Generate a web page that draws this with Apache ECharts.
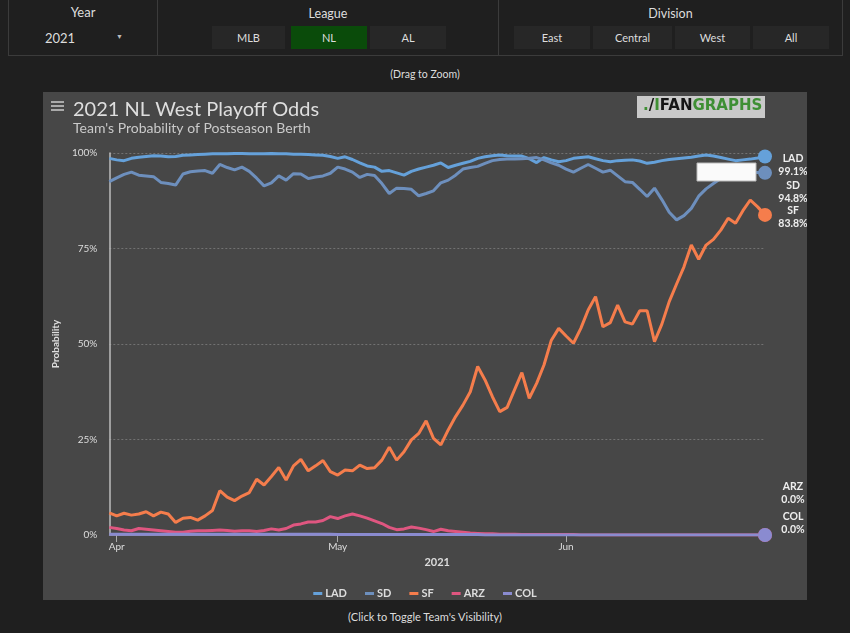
<!DOCTYPE html>
<html><head><meta charset="utf-8">
<script src="https://cdn.jsdelivr.net/npm/echarts/dist/echarts.min.js"></script>
<style>
html,body{margin:0;padding:0;background:#1f1f1f;width:850px;height:633px;overflow:hidden;font-family:Lato,sans-serif;color:#ddd;}
.box{position:absolute;top:-1px;height:57px;border:1px solid #3b3b3b;box-sizing:border-box;}
.hdr{position:absolute;left:0;width:100%;text-align:center;font-size:13px;color:#ddd;}
.btn{position:absolute;top:26px;height:23px;line-height:23px;text-align:center;font-size:11px;background:#272727;color:#ddd;}
.note{position:absolute;left:0;width:850px;text-align:center;font-size:10.5px;color:#ddd;}
#chart{position:absolute;left:43px;top:92px;width:764px;height:508px;}
</style></head>
<body>
<div class="box" style="left:8px;width:150px;">
  <div class="hdr" style="top:4px;">Year</div>
  <div style="position:absolute;left:36px;top:30px;font-size:13px;">2021</div>
  <div style="position:absolute;left:107px;top:32px;font-size:7px;color:#bbb;">&#9660;</div>
</div>
<div class="box" style="left:157px;width:342px;">
  <div class="hdr" style="top:6px;font-size:12.5px;">League</div>
</div>
<div class="box" style="left:498px;width:345px;">
  <div class="hdr" style="top:6px;font-size:12.5px;">Division</div>
</div>
<div class="btn" style="left:212px;width:73px;">MLB</div>
<div class="btn" style="left:291px;width:76px;background:#0a4b0a;">NL</div>
<div class="btn" style="left:370px;width:76px;">AL</div>
<div class="btn" style="left:514px;width:76px;">East</div>
<div class="btn" style="left:593px;width:79px;">Central</div>
<div class="btn" style="left:675px;width:75px;">West</div>
<div class="btn" style="left:753px;width:76px;">All</div>
<div class="note" style="top:68px;">(Drag to Zoom)</div>
<div id="chart"></div>
<div class="note" style="top:610px;font-size:11px;">(Click to Toggle Team's Visibility)</div>
<script>
// ---- data ----
const startDate = new Date(Date.UTC(2021, 2, 31));
const dates = [];
for (let i = 0; i < 90; i++) {
  const d = new Date(startDate.getTime() + i * 86400000);
  dates.push(d.toISOString().slice(0, 10));
}
const monthNames = {'04': 'Apr', '05': 'May', '06': 'Jun'};
const teams = ['LAD', 'SD', 'SF', 'ARZ', 'COL'];
const LAD = [98.6,98.2,98.0,98.6,98.9,99.1,99.3,99.2,99.0,99.1,99.4,99.5,99.6,99.7,99.8,
  99.8,99.8,99.9,99.9,99.8,99.8,99.8,99.9,99.8,99.8,99.7,99.7,99.6,99.5,
  99.4,99.1,98.6,99.0,98.3,97.4,96.6,96.3,95.2,95.4,94.8,94.2,95.2,95.8,96.3,96.8,
  97.4,96.2,96.8,97.3,97.8,98.6,99.0,99.3,99.5,99.3,99.2,99.2,98.5,97.5,98.8,
  98.2,97.7,98.0,98.6,98.8,99.0,98.5,98.0,97.7,98.0,98.1,98.2,97.9,97.3,97.6,
  98.0,98.3,98.5,98.7,98.9,99.2,99.5,99.2,98.8,98.4,98.0,98.2,98.4,98.7,99.1];
const SD = [92.5,93.5,94.4,95.0,94.2,94.0,93.8,92.3,92.0,91.6,94.5,95.1,95.3,95.4,94.7,
  97.0,96.2,95.6,96.3,95.2,93.4,91.4,92.2,94.0,92.9,94.6,94.5,93.3,93.7,94.0,
  94.7,96.3,95.8,95.0,93.6,94.4,94.1,92.0,89.4,90.8,90.7,90.5,88.8,89.4,90.1,
  92.2,92.9,94.2,95.8,96.2,96.5,97.3,98.0,98.3,98.4,98.4,98.5,98.6,98.8,98.2,
  97.4,96.8,95.8,95.0,96.0,97.0,96.0,95.0,95.5,94.0,92.5,92.3,90.5,88.6,90.8,
  87.8,84.5,82.5,83.6,85.5,88.7,90.6,92.0,93.3,94.0,94.5,94.8,95.0,94.9,94.8];
const SF = [5.8,5.0,5.7,5.2,5.5,6.1,5.0,6.0,5.5,3.3,4.4,4.6,3.9,5.0,6.4,
  11.6,9.9,9.0,10.2,11.1,14.6,13.1,15.3,17.7,14.4,18.1,19.8,16.8,18.1,19.5,
  16.6,15.7,17.0,16.8,18.3,17.4,17.6,19.6,23.0,19.6,21.8,24.9,26.6,29.9,25.3,
  23.6,27.5,31.0,34.0,37.5,44.1,40.6,36.2,32.3,33.4,38.0,42.5,35.8,39.7,44.5,
  51.0,54.1,52.1,50.2,54.1,58.9,62.4,54.5,55.6,60.2,55.8,55.2,58.7,58.7,50.6,
  55.2,61.1,65.7,70.2,75.9,72.2,75.9,77.4,79.8,82.9,81.6,84.9,87.7,85.9,83.8];
const ARZ = [2.0,1.7,1.3,1.1,1.7,1.5,1.3,1.1,0.9,0.7,0.7,1.0,1.1,1.1,1.2,
  1.3,1.2,1.0,1.1,1.1,0.9,1.2,1.6,1.3,1.7,2.6,2.9,3.4,3.4,3.8,
  4.8,4.3,5.0,5.5,5.0,4.4,3.7,3.0,2.0,1.4,1.6,2.1,1.8,1.4,0.9,
  1.5,1.1,0.9,0.7,0.5,0.4,0.3,0.3,0.2,0.2,0.2,0.1,0.1,0.1,0.1,
  0.1,0.1,0.1,0.1,0.0,0.0,0.0,0.0,0.0,0.0,0.0,0.0,0.0,0.0,0.0,
  0.0,0.0,0.0,0.0,0.0,0.0,0.0,0.0,0.0,0.0,0.0,0.0,0.0,0.0,0.0];
const COL = [0.2,0.2,0.2,0.2,0.2,0.2,0.2,0.2,0.2,0.2,0.2,0.2,0.2,0.2,0.2,
  0.2,0.2,0.2,0.2,0.2,0.2,0.2,0.2,0.2,0.2,0.2,0.2,0.2,0.2,0.2,
  0.2,0.1,0.1,0.1,0.1,0.1,0.1,0.1,0.1,0.1,0.1,0.1,0.1,0.1,0.1,
  0.1,0.1,0.1,0.1,0.1,0.1,0.0,0.0,0.0,0.0,0.0,0.0,0.0,0.0,0.0,
  0.0,0.0,0.0,0.0,0.0,0.0,0.0,0.0,0.0,0.0,0.0,0.0,0.0,0.0,0.0,
  0.0,0.0,0.0,0.0,0.0,0.0,0.0,0.0,0.0,0.0,0.0,0.0,0.0,0.0,0.0];
const yTicks = [0, 25, 50, 75, 100];

// ---- styling ----
const seriesData = {LAD, SD, SF, ARZ, COL};
const colors = {LAD: '#65a1da', SD: '#6d8fbd', SF: '#f57d4c', ARZ: '#df5680', COL: '#8a8bd0'};
const labelDy = {LAD: 9, SD: 19, SF: 2, ARZ: -42, COL: -12};
const FONT = 'Lato, sans-serif';
const last = dates.length - 1;
const isMonthStart = (idx, val) => val.slice(8) === '01';

const chart = echarts.init(document.getElementById('chart'), null, {renderer: 'canvas'});
chart.setOption({
  animation: false,
  backgroundColor: '#474747',
  title: {
    text: '2021 NL West Playoff Odds',
    subtext: "Team's Probability of Postseason Berth",
    left: 30, top: 8, padding: 0, itemGap: 1,
    textStyle: {color: '#dedede', fontSize: 20, fontWeight: 'normal', fontFamily: FONT},
    subtextStyle: {color: '#cacaca', fontSize: 14, fontFamily: FONT}
  },
  legend: {
    data: teams, left: 'center', top: 491,
    icon: 'rect', itemWidth: 9, itemHeight: 3, itemGap: 18,
    textStyle: {color: '#dddddd', fontSize: 11, fontWeight: 'bold', fontFamily: FONT, padding: [0, 0, 0, -2]}
  },
  grid: {left: 64, right: 42, top: 61, bottom: 65},
  xAxis: {
    type: 'category', data: dates, boundaryGap: false,
    name: '2021', nameLocation: 'middle', nameGap: 22,
    nameTextStyle: {color: '#dddddd', fontSize: 11, fontWeight: 'bold', fontFamily: FONT},
    axisLine: {lineStyle: {color: '#8a8a9a', width: 1}},
    axisTick: {interval: isMonthStart, length: 7, lineStyle: {color: '#aaaaaa'}},
    axisLabel: {interval: isMonthStart, formatter: v => monthNames[v.slice(5, 7)] || '', color: '#dddddd', fontSize: 10, fontFamily: FONT, margin: 7},
    splitLine: {show: false}
  },
  yAxis: {
    type: 'value', min: yTicks[0], max: yTicks[yTicks.length - 1], interval: 25,
    name: 'Probability', nameLocation: 'middle', nameGap: 44, nameRotate: 90,
    nameTextStyle: {color: '#dddddd', fontSize: 10, fontWeight: 'bold', fontFamily: FONT},
    axisLine: {show: true, lineStyle: {color: '#bdbdbd', width: 1.5}},
    axisTick: {show: false},
    axisLabel: {formatter: '{value}%', color: '#dddddd', fontSize: 10, fontFamily: FONT, margin: 12},
    splitLine: {lineStyle: {color: '#727272', type: [2, 2], width: 1}}
  },
  series: teams.map(t => ({
    name: t, type: 'line', data: seriesData[t],
    color: colors[t],
    lineStyle: {width: 3, color: colors[t]},
    showSymbol: true, showAllSymbol: true, symbol: 'circle',
    symbolSize: (v, p) => p.dataIndex === last ? 14 : 0,
    itemStyle: {color: colors[t], borderWidth: 0},
    emphasis: {disabled: true},
    endLabel: {
      show: true, position: 'right', distance: 0, align: 'center', verticalAlign: 'middle',
      offset: [28, labelDy[t]],
      formatter: p => t + '\n' + Number(p.value).toFixed(1) + '%',
      color: '#eeeeee', fontSize: 10.5, fontWeight: 'bold', fontFamily: FONT, lineHeight: 13
    }
  })),
  graphic: [
    {type: 'rect', shape: {x: 8, y: 9, width: 13, height: 2}, style: {fill: '#aaaaaa'}},
    {type: 'rect', shape: {x: 8, y: 13, width: 13, height: 2}, style: {fill: '#aaaaaa'}},
    {type: 'rect', shape: {x: 8, y: 17, width: 13, height: 2}, style: {fill: '#aaaaaa'}},
    {type: 'rect', shape: {x: 594, y: 4, width: 128, height: 22}, style: {fill: '#c9c9c9'}},
    {type: 'text', left: 600, top: 7, style: {
      text: '{g|.}{k|/}{g|I}{k|FAN}{g|GRAPHS}',
      rich: {
        g: {fill: '#3f8f34', fontSize: 15, fontWeight: 'bold', fontFamily: 'DejaVu Sans'},
        k: {fill: '#151515', fontSize: 15, fontWeight: 'bold', fontFamily: 'DejaVu Sans'}
      }
    }},
    {type: 'rect', z: 100, shape: {x: 654, y: 71, width: 59, height: 18}, style: {fill: '#fafafa', stroke: '#bbbbbb', lineWidth: 1}}
  ]
});
</script>
</body></html>
